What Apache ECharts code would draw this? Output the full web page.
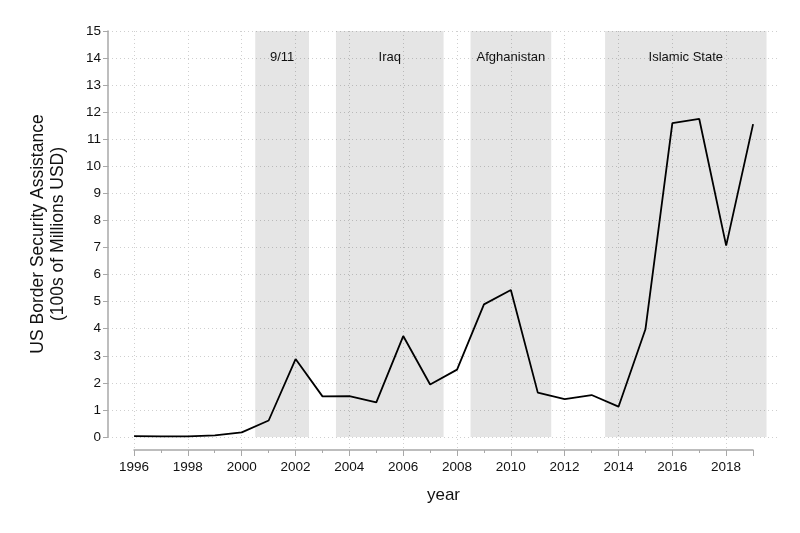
<!DOCTYPE html>
<html>
<head>
<meta charset="utf-8">
<script src="https://cdn.jsdelivr.net/npm/echarts@6/dist/echarts.min.js"></script>
<style>
  html, body { margin: 0; padding: 0; background: #fff; }
  #chart { width: 800px; height: 533px; }
</style>
</head>
<body>
<div id="chart"></div>
<script>
const years = [1996, 1997, 1998, 1999, 2000, 2001, 2002, 2003, 2004, 2005, 2006, 2007,
  2008, 2009, 2010, 2011, 2012, 2013, 2014, 2015, 2016, 2017, 2018, 2019]
const assistance = [0.03, 0.02, 0.02, 0.06, 0.17, 0.61, 2.88, 1.5, 1.51, 1.28, 3.73, 1.94,
  2.49, 4.9, 5.43, 1.64, 1.4, 1.55, 1.12, 3.98, 11.6, 11.75, 7.07, 11.56]
const periods = [
  {name: '9/11', from: 2000.5, to: 2002.5},
  {name: 'Iraq', from: 2003.5, to: 2007.5},
  {name: 'Afghanistan', from: 2008.5, to: 2011.5},
  {name: 'Islamic State', from: 2013.5, to: 2019.5}
]

const chart = echarts.init(document.getElementById('chart'))
const axisGray = '#a8a8a8'
const gridDots = {lineStyle: {color: '#cfcfcf', type: [1, 3], width: 1}}

const option = {
  animation: false,
  textStyle: {fontFamily: 'Liberation Sans, Arial, sans-serif'},
  grid: [
    {left: 108, right: 20, top: 31, bottom: 96},
    {left: 134, right: 47, top: 31, bottom: 83}
  ],
  xAxis: [
    {gridIndex: 0, type: 'value', min: 1995.03, max: 2020, show: false},
    {
      gridIndex: 1, type: 'value', min: 1996, max: 2019, interval: 2,
      name: 'year', nameLocation: 'middle', nameGap: 37,
      nameTextStyle: {fontSize: 17, color: '#111'},
      axisLine: {show: true, onZero: false, lineStyle: {color: axisGray, width: 1.5}},
      axisTick: {length: 6, lineStyle: {color: axisGray}},
      minorTick: {show: true, splitNumber: 2, length: 3, lineStyle: {color: axisGray}},
      axisLabel: {color: '#111', fontSize: 13.5, margin: 10, showMaxLabel: false,
        formatter: v => String(v)},
      splitLine: Object.assign({show: true, showMaxLine: false}, gridDots)
    }
  ],
  yAxis: [
    {
      gridIndex: 0, type: 'value', min: 0, max: 15, interval: 1,
      name: 'US Border Security Assistance\n(100s of Millions USD)',
      nameLocation: 'middle', nameGap: 40, nameRotate: 90,
      nameTextStyle: {fontSize: 17.5, color: '#111', lineHeight: 20},
      axisLine: {show: true, lineStyle: {color: axisGray, width: 1.5}},
      axisTick: {show: true, length: 5, lineStyle: {color: axisGray}},
      axisLabel: {color: '#111', fontSize: 13.5, margin: 7},
      splitLine: Object.assign({show: true}, gridDots)
    },
    {gridIndex: 1, type: 'value', min: -0.48, max: 15, show: false}
  ],
  series: [{
    type: 'line',
    xAxisIndex: 0,
    yAxisIndex: 0,
    data: years.map((y, i) => [y, assistance[i]]),
    symbol: 'none',
    lineStyle: {color: '#000', width: 1.8},
    markArea: {
      silent: true,
      itemStyle: {color: 'rgba(0,0,0,0.1)'},
      label: {position: 'insideTop', distance: 20, color: '#111', fontSize: 13},
      data: periods.map(p => [{name: p.name, xAxis: p.from}, {xAxis: p.to}])
    }
  }]
}

chart.setOption(option)
</script>
</body>
</html>
